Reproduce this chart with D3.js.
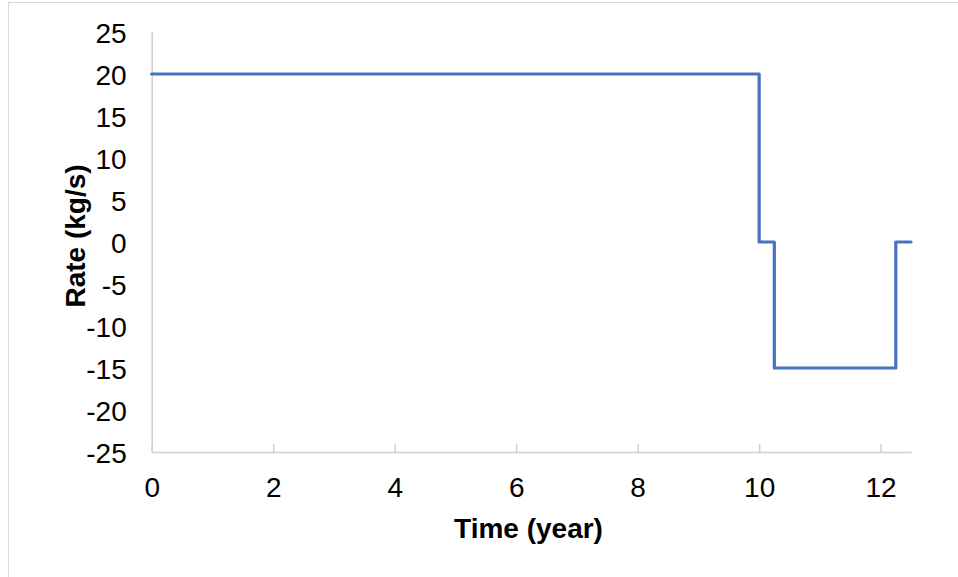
<!DOCTYPE html>
<html>
<head>
<meta charset="utf-8">
<script src="https://cdn.jsdelivr.net/npm/d3@7"></script>
<style>
  html, body { margin: 0; padding: 0; background: #fff; }
  svg { display: block; }
  text { font-family: "Liberation Sans", Arial, sans-serif; fill: #000; }
</style>
</head>
<body>
<svg id="chart" width="958" height="577"></svg>
<script>
// Data
const timeYears = [0, 10, 10, 10.25, 10.25, 12.25, 12.25, 12.5];
const rateKgS   = [20, 20, 0, 0, -15, -15, 0, 0];
const xTicks = [0, 2, 4, 6, 8, 10, 12];
const yTicks = [-25, -20, -15, -10, -5, 0, 5, 10, 15, 20, 25];
const xTitle = "Time (year)";
const yTitle = "Rate (kg/s)";

(function () {
const svg = d3.select("#chart");
const plotLeft = 151.7, plotRight = 911, plotTop = 32, plotBottom = 452;

// outer chart border
svg.append("rect")
  .attr("x", 8.5).attr("y", 2.5)
  .attr("width", 1000).attr("height", 1000)
  .attr("fill", "#fff").attr("stroke", "#d9d9d9").attr("stroke-width", 1);

const x = d3.scaleLinear().domain([0, 12.5]).range([plotLeft, plotRight]);
const y = d3.scaleLinear().domain([-25, 25]).range([plotBottom, plotTop]);

const axisColor = "#d0d0d0";

// X axis
const xAxis = svg.append("g")
  .attr("transform", `translate(0,${plotBottom})`)
  .call(d3.axisBottom(x).tickValues(xTicks).tickSizeInner(-8).tickSizeOuter(0).tickPadding(0).tickFormat(d3.format("d")));
xAxis.select(".domain").attr("stroke", axisColor).attr("stroke-width", 1.5);
xAxis.selectAll(".tick line").attr("stroke", axisColor).attr("stroke-width", 1.5);
xAxis.selectAll(".tick text")
  .attr("y", 45).attr("dy", null)
  .style("font-size", "28px").style("font-family", "'Liberation Sans', Arial, sans-serif").attr("fill", "#000");

// Y axis
const yAxis = svg.append("g")
  .attr("transform", `translate(${plotLeft},0)`)
  .call(d3.axisLeft(y).tickValues(yTicks).tickSize(0).tickPadding(0).tickFormat(d3.format("d")));
yAxis.select(".domain").attr("stroke", axisColor).attr("stroke-width", 1.5);
yAxis.selectAll(".tick text")
  .attr("x", -25).attr("dy", 10)
  .style("font-size", "28px").style("font-family", "'Liberation Sans', Arial, sans-serif").attr("fill", "#000")
  .text(d => d < 0 ? "-" + Math.abs(d) : d);

// Line
const pts = timeYears.map((t, i) => [t, rateKgS[i]]);
svg.append("path")
  .datum(pts)
  .attr("fill", "none")
  .attr("stroke", "#4472C4")
  .attr("stroke-width", 3.2)
  .attr("stroke-linejoin", "round")
  .attr("stroke-linecap", "round")
  .attr("d", d3.line().x(d => x(d[0])).y(d => y(d[1])));

// Axis titles
svg.append("text")
  .attr("x", 528.5).attr("y", 537.5)
  .attr("text-anchor", "middle")
  .style("font-size", "28px").style("font-weight", "bold")
  .text(xTitle);

svg.append("text")
  .attr("transform", "translate(85,236) rotate(-90)")
  .attr("text-anchor", "middle")
  .style("font-size", "28px").style("font-weight", "bold")
  .text(yTitle);
})();
</script>
</body>
</html>
